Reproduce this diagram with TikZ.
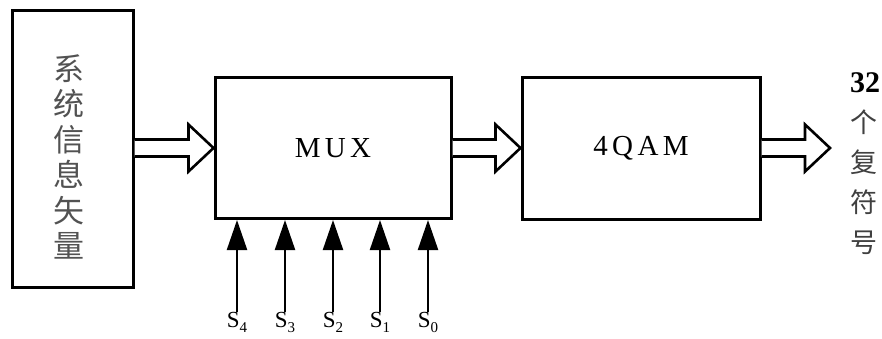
\documentclass[tikz,border=0pt]{standalone}
\usepackage{fontspec}
\setmainfont{Liberation Serif}
\newfontfamily\cjk{Noto Sans CJK SC}
\usetikzlibrary{calc,arrows.meta}
\tikzset{
  block/.style={draw=black, line width=3pt, fill=white, inner sep=0pt},
  hollow/.style={draw=black, line width=2.6pt, fill=white, line join=miter},
  sig/.style={line width=2.2pt, -{Triangle[length=30pt,width=20pt]}},
  slabel/.style={inner sep=0pt, font=\fontsize{23}{23}\selectfont},
  blocktext/.style={font=\fontsize{29}{29}\selectfont\addfontfeature{LetterSpace=15}},
}
\newcommand{\hollowarr}[2]{%
  \draw[hollow] (#1 |- #2) ++(0,-8.5) coordinate (t1)
    -- ($(#2)+(-25,-8.5)$) -- ($(#2)+(-25,-23.5)$) -- (#2)
    -- ($(#2)+(-25,23.5)$) -- ($(#2)+(-25,8.5)$) -- ($(#1 |- #2)+(0,8.5)$);}
\newcommand{\sub}[1]{\raisebox{-5pt}{\fontsize{15}{15}\selectfont #1}}
\begin{document}
\begin{tikzpicture}[x=1pt,y=-1pt]
\useasboundingbox (0,0) rectangle (882,338);
% blocks
\node[block, minimum width=121pt, minimum height=277pt] (sys) at (72.5,148.5) {};
\node[text=black!68, align=center, font=\cjk\fontsize{31}{35.5}\selectfont] (systxt) at (69,157)
  {系\\统\\信\\息\\矢\\量};
\node[block, minimum width=236pt, minimum height=141pt, blocktext] (mux) at (333,148) {MUX};
\node[block, minimum width=238pt, minimum height=142pt, blocktext] (qam) at (641,148) {4QAM};
% hollow arrows
\coordinate (out) at (830,148);
\hollowarr{sys.east}{mux.west}
\hollowarr{mux.east}{qam.west}
\hollowarr{qam.east}{out}
% output text
\node[font=\bfseries\fontsize{30}{30}\selectfont, inner sep=0pt] (n32) at (865,83) {32};
\node[text=black!75, align=center, font=\cjk\fontsize{27}{40}\selectfont, inner sep=0pt] (outtxt) at (864,182)
  {个\\复\\符\\号};
% selection signals
\foreach \x/\n in {237/4,285/3,333/2,380/1,428/0}{
  \coordinate (s\n) at (\x,312);
  \draw[sig] (s\n) -- (s\n |- mux.south);
  \node[slabel] (l\n) at (\x,322) {S\sub{\n}};
}
\end{tikzpicture}
\end{document}
